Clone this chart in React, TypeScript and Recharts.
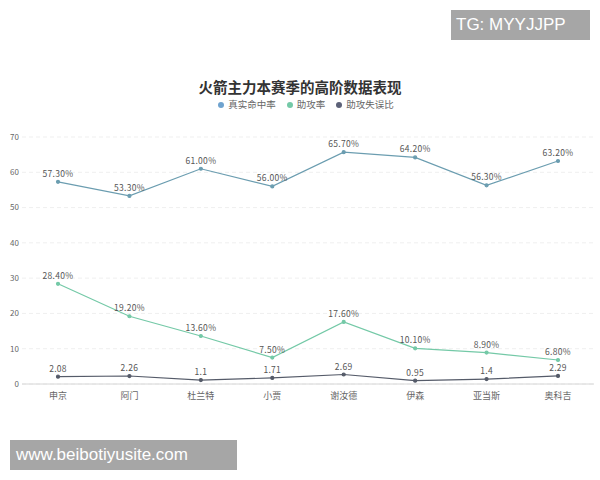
import React from "react";
import { LineChart, Line, XAxis, YAxis, CartesianGrid, LabelList } from "recharts";

const players = ["申京", "阿门", "杜兰特", "小贾", "谢汝德", "伊森", "亚当斯", "奥科吉"];
const tsPct = [57.3, 53.3, 61.0, 56.0, 65.7, 64.2, 56.3, 63.2];
const astPct = [28.4, 19.2, 13.6, 7.5, 17.6, 10.1, 8.9, 6.8];
const astTo = [2.08, 2.26, 1.1, 1.71, 2.69, 0.95, 1.4, 2.29];
const yTicks = [0, 10, 20, 30, 40, 50, 60, 70];
const seriesNames = ["真实命中率", "助攻率", "助攻失误比"];

const data = players.map((p, i) => ({ name: p, ts: tsPct[i], ast: astPct[i], ato: astTo[i] }));

const FONT = '"Noto Sans CJK SC", "Noto Sans", sans-serif';
const C_TS = "#6b9db0";
const C_AST = "#74c9a7";
const C_ATO = "#555b69";
const LEG_COLORS = ["#6fa3cf", "#74c9a7", "#5c6178"];

const pct = (v: any) => `${Number(v).toFixed(2)}%`;
const labelStyle = { fontSize: 8.5, fill: "#555", fontFamily: FONT, letterSpacing: 0.3 };

export default function App() {
  return (
    <div style={{ position: "absolute", left: 0, top: 0, width: 600, height: 480, background: "#fff", fontFamily: FONT }}>
      <div style={{ position: "absolute", top: 76, left: 0, width: 600, textAlign: "center", fontSize: 14.5, fontWeight: 700, color: "#333" }}>
        火箭主力本赛季的高阶数据表现
      </div>
      <div style={{ position: "absolute", top: 98, left: 6, width: 600, display: "flex", justifyContent: "center", gap: 11, fontSize: 9.5, color: "#666", lineHeight: "13px" }}>
        {seriesNames.map((n, i) => (
          <span key={n} style={{ display: "flex", alignItems: "center" }}>
            <span style={{ display: "inline-block", width: 6, height: 6, borderRadius: 3, background: LEG_COLORS[i], marginRight: 4 }} />
            {n}
          </span>
        ))}
      </div>
      <LineChart width={600} height={480} data={data} margin={{ top: 137, right: 6, bottom: 76, left: 0 }}>
        <CartesianGrid horizontal vertical={false} stroke="#efefef" strokeDasharray="4 3" />
        <XAxis dataKey="name" axisLine={{ stroke: "#d6d6d6" }} tickLine={false} tickSize={0} height={20}
          padding={{ left: 36, right: 36 }}
          tick={{ fontSize: 9, fill: "#666", fontFamily: FONT }} tickMargin={9} interval={0} />
        <YAxis width={22} domain={[0, 70]} ticks={yTicks} axisLine={false} tickLine={false} tickSize={0}
          tick={{ fontSize: 8, fill: "#666", fontFamily: FONT }} tickMargin={3} />
        <Line name={seriesNames[0]} dataKey="ts" stroke={C_TS} strokeWidth={1.2} isAnimationActive={false}
          dot={{ r: 1.5, fill: C_TS, stroke: C_TS }}>
          <LabelList dataKey="ts" position="top" offset={5} formatter={pct} style={labelStyle} />
        </Line>
        <Line name={seriesNames[1]} dataKey="ast" stroke={C_AST} strokeWidth={1.2} isAnimationActive={false}
          dot={{ r: 1.5, fill: C_AST, stroke: C_AST }}>
          <LabelList dataKey="ast" position="top" offset={5} formatter={pct} style={labelStyle} />
        </Line>
        <Line name={seriesNames[2]} dataKey="ato" stroke={C_ATO} strokeWidth={1.2} isAnimationActive={false}
          dot={{ r: 1.5, fill: C_ATO, stroke: C_ATO }}>
          <LabelList dataKey="ato" position="top" offset={5} style={labelStyle} />
        </Line>
      </LineChart>
      <div style={{ position: "absolute", left: 451, top: 10, width: 139, height: 30, background: "#a6a6a6", color: "#fff",
        fontFamily: '"Liberation Sans", Arial, sans-serif', fontSize: 17, lineHeight: "30px", paddingLeft: 5, boxSizing: "border-box" }}>
        TG: MYYJJPP
      </div>
      <div style={{ position: "absolute", left: 10, top: 440, width: 227, height: 30, background: "#a6a6a6", color: "#fff",
        fontFamily: '"Liberation Sans", Arial, sans-serif', fontSize: 17, lineHeight: "30px", paddingLeft: 6, boxSizing: "border-box" }}>
        www.beibotiyusite.com
      </div>
    </div>
  );
}
